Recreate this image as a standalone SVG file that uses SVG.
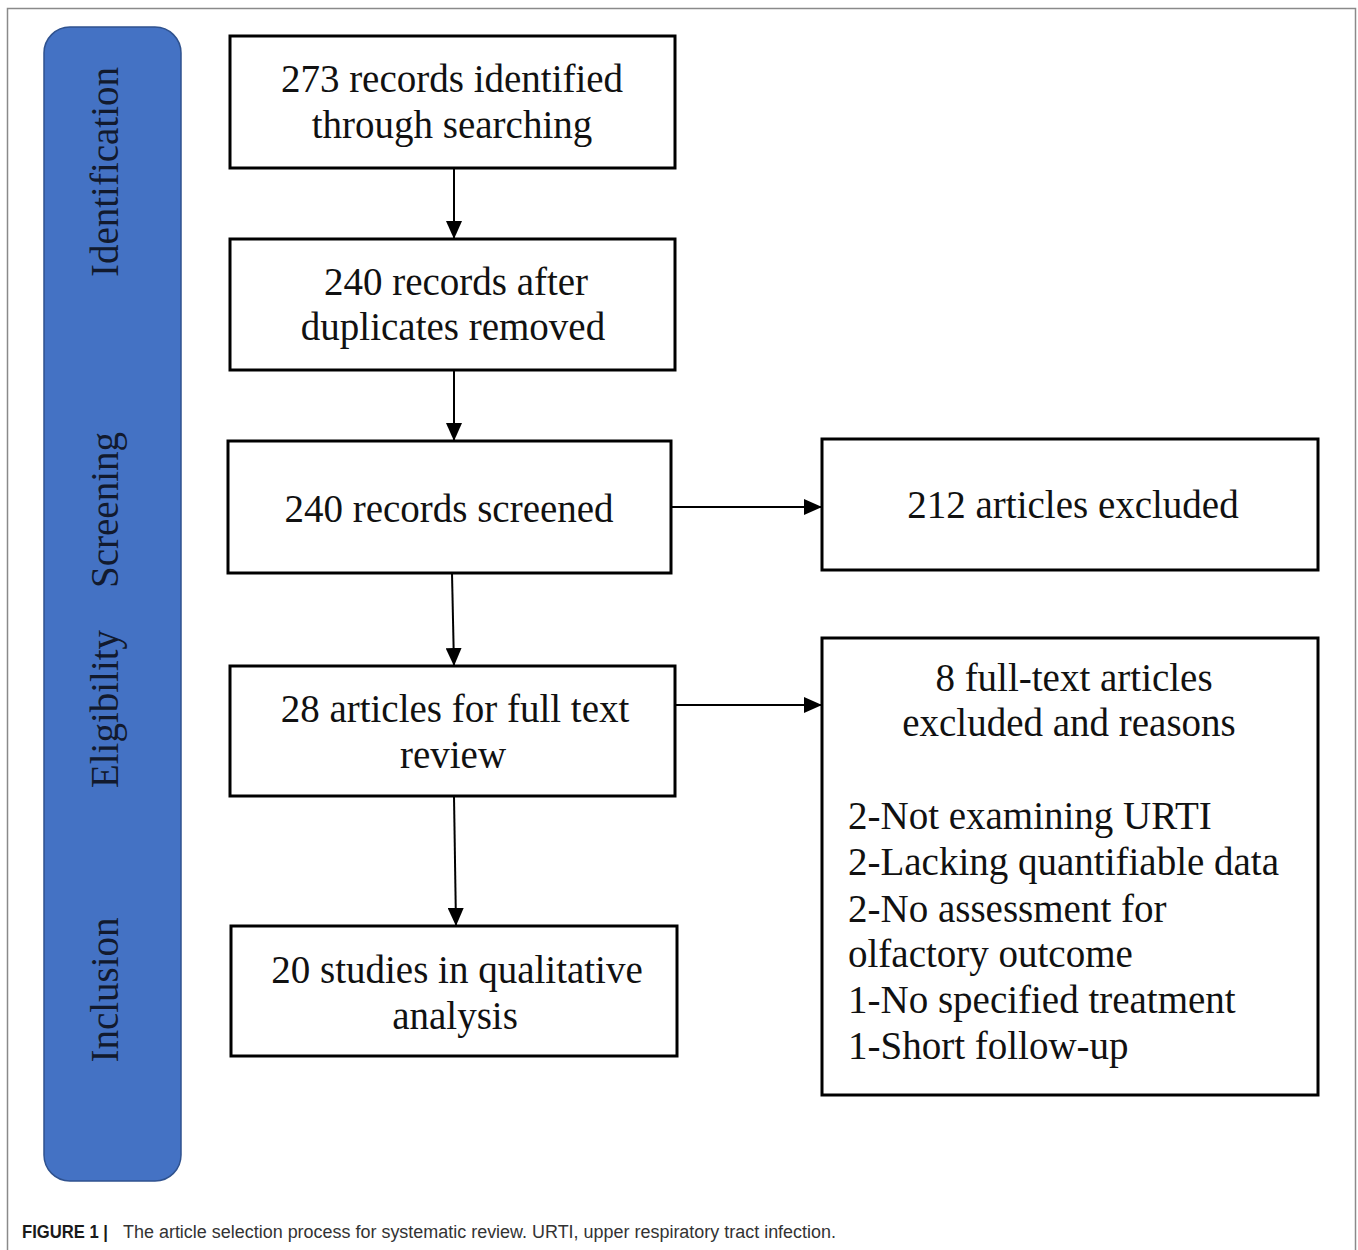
<svg xmlns="http://www.w3.org/2000/svg" width="1358" height="1250" viewBox="0 0 1358 1250">
<style>
.box{fill:#fff;stroke:#000;stroke-width:3}
.t{font-family:"Liberation Serif","Times New Roman",serif;font-size:39px;fill:#111;text-anchor:middle}
.tl{font-family:"Liberation Serif","Times New Roman",serif;font-size:39px;fill:#111}
.side{font-family:"Liberation Serif","Times New Roman",serif;font-size:39px;fill:#121a2e;text-anchor:middle}
.conn{stroke:#000;stroke-width:2;fill:none;marker-end:url(#arr)}
.cap{font-family:"Liberation Sans",Arial,sans-serif;font-size:18px}
</style>
<defs>
<marker id="arr" viewBox="0 0 18 16" refX="18" refY="8" markerWidth="18" markerHeight="16" markerUnits="userSpaceOnUse" orient="auto">
<path d="M0,0 L18,8 L0,16 z" fill="#000"/>
</marker>
</defs>
<rect x="0" y="0" width="1358" height="1250" fill="#fff"/>
<rect x="7.5" y="8.5" width="1348" height="1260" fill="none" stroke="#8a8a8a" stroke-width="1.5"/>
<g id="phase-bar">
<rect x="44" y="27" width="137" height="1154" rx="26" ry="26" fill="#4472C4" stroke="#2F528F" stroke-width="1.5"/>
<text class="side" transform="translate(118,172) rotate(-90)">Identification</text>
<text class="side" transform="translate(118,510) rotate(-90)">Screening</text>
<text class="side" transform="translate(118,709) rotate(-90)">Eligibility</text>
<text class="side" transform="translate(118,990) rotate(-90)">Inclusion</text>
</g>
<g id="connectors">
<line class="conn" x1="454" y1="168" x2="454" y2="239"/>
<line class="conn" x1="454" y1="370" x2="454" y2="441"/>
<line class="conn" x1="671" y1="507" x2="822" y2="507"/>
<line class="conn" x1="452" y1="573" x2="454" y2="666"/>
<line class="conn" x1="675" y1="705" x2="822" y2="705"/>
<line class="conn" x1="454" y1="796" x2="456" y2="926"/>
</g>
<g id="n1">
<rect class="box" x="230" y="36" width="445" height="132"/>
<text class="t" x="452" y="92">273 records identified</text>
<text class="t" x="452" y="138">through searching</text>
</g>
<g id="n2">
<rect class="box" x="230" y="239" width="445" height="131"/>
<text class="t" x="456" y="295">240 records after</text>
<text class="t" x="453" y="340">duplicates removed</text>
</g>
<g id="n3">
<rect class="box" x="228" y="441" width="443" height="132"/>
<text class="t" x="449" y="522">240 records screened</text>
</g>
<g id="n4">
<rect class="box" x="822" y="439" width="496" height="131"/>
<text class="t" x="1073" y="518">212 articles excluded</text>
</g>
<g id="n5">
<rect class="box" x="230" y="666" width="445" height="130"/>
<text class="t" x="455" y="722">28 articles for full text</text>
<text class="t" x="453" y="768">review</text>
</g>
<g id="n6">
<rect class="box" x="231" y="926" width="446" height="130"/>
<text class="t" x="457" y="983">20 studies in qualitative</text>
<text class="t" x="455" y="1029">analysis</text>
</g>
<g id="n7">
<rect class="box" x="822" y="638" width="496" height="457"/>
<text class="t" x="1074" y="691">8 full-text articles</text>
<text class="t" x="1069" y="736">excluded and reasons</text>
<text class="tl" x="848" y="829">2-Not examining URTI</text>
<text class="tl" x="848" y="875">2-Lacking quantifiable data</text>
<text class="tl" x="848" y="922">2-No assessment for</text>
<text class="tl" x="848" y="967">olfactory outcome</text>
<text class="tl" x="848" y="1013">1-No specified treatment</text>
<text class="tl" x="848" y="1059">1-Short follow-up</text>
</g>
<g id="caption">
<text class="cap" x="22" y="1238" font-weight="bold" fill="#1a1a1a" textLength="86" lengthAdjust="spacingAndGlyphs">FIGURE 1 |</text>
<text class="cap" x="123" y="1238" fill="#333" textLength="713" lengthAdjust="spacingAndGlyphs">The article selection process for systematic review. URTI, upper respiratory tract infection.</text>
</g>
</svg>
